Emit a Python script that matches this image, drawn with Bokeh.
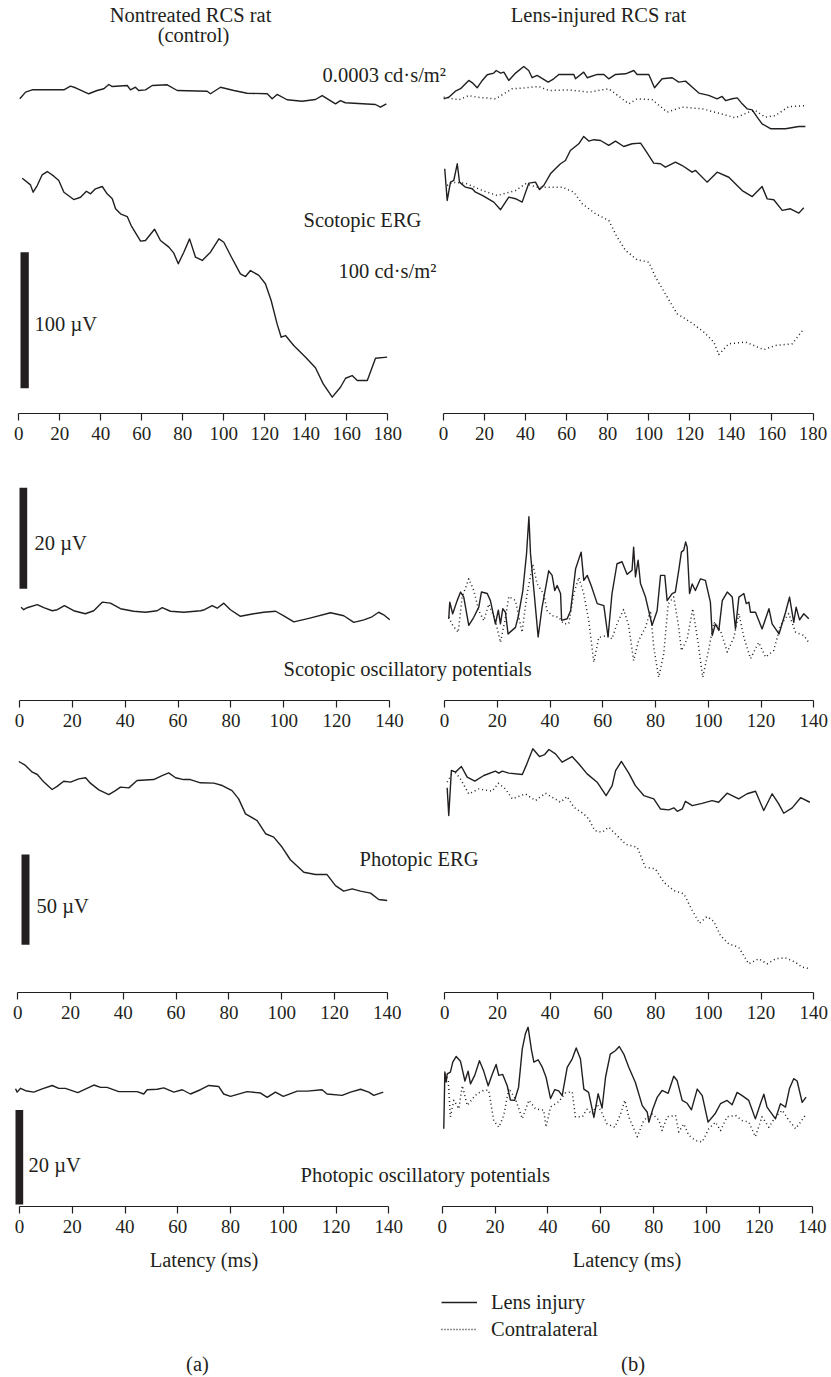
from bokeh.plotting import figure
from bokeh.models import Range1d, FixedTicker, Label, Legend, LegendItem, ColumnDataSource
from bokeh.layouts import column, row
from bokeh.transform import dodge
from bokeh.embed import file_html
from bokeh.resources import INLINE

FONT = "Liberation Serif"
INK = "#231f20"
FS = "20.5px"

# ---------------- DATA (latency in ms, amplitude in uV relative to trace start) -------------
# Row 1: scotopic ERG
R1_CTRL_DIM_T = [0.5,3.3,6.5,22.0,25.2,27.7,34.1,38.2,41.5,43.9,45.6,52.9,54.5,56.9,58.5,61.8,65.1,72.4,77.3,91.9,93.5,98.4,104.9,111.4,121.2,123.6,126.0,130.9,138.2,144.7,148.0,154.5,156.9,159.3,174.0,176.4,179.3]
R1_CTRL_DIM_V = [0,4.9,6.6,6.6,9.3,8.1,3.7,6.1,7.4,10.5,9.0,9.8,6.6,8.5,6.1,6.6,9.8,10.3,6.1,5.6,3.7,8.5,6.1,4.1,3.7,0,3.2,-0.7,-1.8,-0.5,2.4,-3.7,-1.3,-2.9,-4.2,-6.2,-3.7]
R1_CTRL_BRIGHT_T = [1.7,5.7,7.0,9.0,11.4,13.9,17.1,19.5,22.0,26.8,30.1,33.0,35.0,37.4,40.7,43.1,45.6,47.2,49.6,52.9,54.8,59.4,61.8,66.2,69.1,73.2,75.6,77.8,80.5,83.3,86.2,89.5,93.5,97.6,100.0,103.3,108.1,110.6,113.0,117.1,120.3,123.1,126.0,128.0,130.1,134.1,139.9,144.7,148.5,152.9,156.9,159.4,162.6,165.1,170.0,174.0,179.7]
R1_CTRL_BRIGHT_V = [0,-4.9,-10.3,-5.4,2.5,4.9,1.5,-1.7,-10.3,-15.7,-14.0,-9.6,-11.5,-7.8,-6.1,-11.5,-15.1,-22.5,-26.2,-28.2,-34.8,-46.3,-45.8,-37.5,-45.8,-50.7,-55.1,-62.9,-54.4,-44.6,-58.1,-60.5,-54.4,-44.6,-47.1,-56.8,-70.3,-72.3,-67.9,-71.5,-77.6,-89.9,-107.1,-116.9,-115.7,-123.0,-131.6,-139.4,-151.2,-161.0,-153.7,-147.1,-145.1,-148.8,-148.8,-132.4,-131.6]
R1_LENS_DIM_T = [0.1,2.6,5.8,8.3,12.3,14.3,16.4,18.9,21.3,24.5,25.7,27.8,29.4,31.8,35.1,39.1,41.5,43.2,45.6,51.0,53.7,56.2,63.5,64.3,68.3,70.0,74.9,78.1,80.5,83.8,88.7,92.7,94.3,100.0,102.8,106.5,111.4,114.6,117.9,121.1,124.4,129.2,133.3,135.7,137.4,140.6,143.1,145.5,147.9,150.4,152.8,155.2,159.3,166.6,173.1,176.3]
R1_LENS_DIM_V = [0,1.2,5.6,7.4,13.5,11.5,8.1,13.5,17.7,18.9,20.8,18.9,19.6,13.5,18.9,23.8,20.8,15.5,17.2,12.3,14.7,17.9,17.9,14.7,19.6,15.5,17.9,17.9,14.7,17.9,18.4,20.8,17.9,17.9,8.1,14.7,15.5,12.3,13.0,8.6,4.2,2.5,0,1.7,-1.3,0,0.7,-3.7,-7.4,-8.1,-13.5,-18.4,-22.0,-22.0,-20.4,-20.4]
R1_CONTRA_DIM_T = [0.1,7.5,12.3,16.4,25.3,33.5,39.9,46.4,51.3,61.0,70.8,80.5,83.8,90.3,94.3,101.7,109.0,116.3,126.0,142.2,148.7,152.0,156.8,161.7,168.2,176.3]
R1_CONTRA_DIM_V = [0,-1.9,1.2,0,-1.2,6.2,6.9,7.9,4.9,5.4,3.7,6.2,2.5,-4.9,-1.2,-1.9,-11.0,-7.3,-8.5,-15.1,-11.0,-9.8,-14.7,-13.5,-6.9,-6.2]
R1_LENS_BRIGHT_T = [0.6,1.8,3.4,5.0,6.7,7.8,10.7,14.0,15.6,18.9,24.5,27.8,31.8,35.1,38.3,41.6,44.8,46.8,48.9,52.1,54.5,57.0,59.4,61.8,65.9,68.3,70.8,73.2,76.5,80.5,83.8,87.8,91.9,96.0,98.4,102.4,105.7,108.1,113.0,116.3,121.1,122.8,128.4,133.3,139.0,145.5,150.4,155.2,157.7,160.9,165.0,169.0,173.1,175.5]
R1_LENS_BRIGHT_V = [0,-23.3,-9.8,-8.6,3.7,-9.8,-13.5,-14.7,-17.2,-19.6,-24.5,-30.1,-20.8,-22.0,-24.5,-10.5,-9.8,-15.3,-12.1,-3.7,0,3.7,6.1,13.5,18.4,23.8,20.4,21.4,20.8,17.2,20.4,16.4,18.4,18.9,13.5,4.2,3.7,1.2,4.9,2.4,-2.5,-1.2,-9.8,-2.5,-6.2,-16.0,-20.4,-13.1,-22.1,-22.8,-30.6,-29.4,-32.6,-28.7]
R1_CONTRA_BRIGHT_T = [1.8,4.2,10.7,18.9,26.2,35.1,39.9,45.6,51.3,57.8,63.5,67.6,74.1,80.5,84.6,88.7,94.3,100.0,103.3,109.0,113.8,121.1,126.8,131.7,134.1,139.0,147.1,156.0,161.7,169.9,175.5]
R1_CONTRA_BRIGHT_V = [0,2.4,1.7,-3.7,-7.4,-3.7,1.2,-1.2,-1.2,-1.2,-4.9,-13.5,-20.8,-25.7,-38.0,-47.8,-54.6,-56.4,-67.4,-82.1,-94.3,-101.2,-107.8,-115.1,-124.3,-116.4,-115.1,-120.7,-117.6,-116.4,-105.4]

# Row 2: scotopic oscillatory potentials
R2_CTRL_T = [0.6,1.6,2.9,6.7,9.2,12.4,14.3,17.0,20.5,24.9,28.1,31.3,34.4,38.2,43.2,47.7,52.1,54.0,57.1,62.2,68.5,70.0,72.9,74.8,77.3,79.8,83.6,88.6,92.4,96.9,100.0,103.8,109.5,117.7,122.7,126.5,130.3,133.4,135.9,137.8,140.1]
R2_CTRL_V = [0,-0.5,-0.1,0.5,-0.1,-0.7,-0.5,0.3,-0.7,-1.3,-0.7,1.0,0.8,-0.3,-0.8,-1.0,-0.7,-0.1,-0.8,-1.0,-0.7,-0.5,0.3,-0.2,0.8,-0.5,-1.8,-1.3,-1.0,-0.8,-1.7,-2.9,-2.2,-1.1,-1.7,-3.0,-2.5,-1.9,-1.0,-1.5,-2.5]
R2_LENS_T = [1.6,2.0,3.1,4.8,6.1,7.3,9.2,11.1,13.0,14.0,16.2,17.4,19.3,20.4,21.2,22.1,23.1,24.1,26.9,27.9,29.7,31.1,32.0,32.6,33.9,35.5,37.0,39.5,40.8,41.8,42.7,44.0,44.4,46.5,47.8,49.7,51.8,52.8,54.1,55.6,57.9,60.4,62.0,63.5,65.4,67.3,69.2,71.1,71.7,72.4,73.4,74.3,76.2,78.7,80.6,81.9,83.5,84.4,86.3,87.5,88.8,89.8,90.7,91.4,92.0,92.9,93.9,95.1,97.0,98.9,100.8,101.5,102.7,104.0,105.3,107.2,109.1,110.3,111.6,113.5,114.4,115.4,116.0,117.9,120.4,123.0,124.2,126.8,129.3,130.8,132.4,133.3,134.6,136.2,138.1]
R2_LENS_V = [0,3.3,1.0,3.6,5.3,4.3,-1.3,0.3,2.3,5.3,5.0,3.6,-1.0,1.7,-1.0,2.0,1.3,-3.0,-1.7,0.3,5.6,12.9,20.2,12.9,5.6,-3.6,2.3,9.5,8.6,5.6,6.6,5.0,-0.3,0,1.6,9.9,13.2,7.6,8.6,6.6,3.0,2.6,-3.6,5.0,10.9,11.3,8.8,9.6,14.2,8.3,11.6,7.0,4.3,-1.3,1.6,8.6,8.6,3.6,5.0,5.3,9.6,13.2,13.6,15.2,14.2,5.0,6.9,5.6,7.9,7.6,3.3,-3.3,-1.0,-2.3,3.6,5.3,4.3,-2.0,4.3,5.0,3.0,3.3,1.3,1.3,-2.0,2.0,-1.0,-3.0,1.3,4.3,-0.7,2.3,-0.2,1.0,0]
R2_CONTRA_T = [1.6,3.1,5.2,6.7,9.2,11.1,13.0,14.9,16.8,19.3,21.2,22.9,24.4,26.9,29.4,31.3,33.5,35.1,37.6,38.9,40.8,43.3,45.2,47.1,49.0,50.9,52.8,54.7,56.6,58.5,61.7,63.5,65.4,67.9,69.8,71.7,73.6,76.2,78.1,79.3,81.2,83.1,84.8,86.9,88.8,89.8,92.0,94.1,96.2,97.9,100.2,102.1,104.6,107.2,109.7,111.6,113.5,116.0,119.1,121.7,124.8,127.4,130.5,133.1,136.2,138.1]
R2_CONTRA_V = [0,-1.6,-3.0,4.0,7.6,5.3,1.3,-0.7,2.6,-0.7,-5.0,-0.7,4.1,3.3,-3.0,4.6,10.5,6.6,4.6,1.3,0.3,0,-1.3,-1.3,4.6,7.9,4.6,-0.7,-8.9,-4.0,-3.6,-4.3,-1.3,1.5,-1.6,-8.6,-4.6,-2.0,1.3,-5.9,-11.9,-7.3,2.6,4.0,-2.0,-6.6,-4.3,1.7,-5.3,-11.9,-6.3,-1.0,-2.6,-6.9,-4.0,0.7,-4.0,-8.2,-5.0,-7.9,-6.6,-1.6,0.7,-3.0,-3.6,-5.0]

# Row 3: photopic ERG
R3_CTRL_T = [0.4,2.9,5.5,7.4,9.9,13.0,14.9,17.4,20.0,23.1,25.7,27.5,30.7,34.5,37.0,38.9,42.1,45.2,51.5,54.7,57.2,59.8,62.9,65.4,69.2,74.3,77.5,81.2,83.7,86.3,90.7,93.9,97.0,100.2,103.3,108.4,112.8,117.2,120.4,123.5,126.7,129.9,133.7,136.8,140.0]
R3_CTRL_V = [0,-2.2,-5.9,-7.2,-11.4,-15.5,-13.8,-10.9,-11.4,-9.6,-9.0,-12.0,-15.7,-18.3,-16.1,-14.2,-14.6,-10.5,-10.0,-7.8,-6.3,-9.0,-10.0,-10.0,-11.8,-12.0,-13.3,-16.1,-20.7,-29.0,-32.7,-40.0,-41.9,-47.5,-54.4,-61.3,-62.6,-62.6,-68.7,-71.8,-70.5,-71.8,-72.9,-76.4,-77.0]
R3_LENS_T = [0.9,1.5,2.5,4.1,6.3,8.5,11.4,14.8,19.2,20.5,21.8,24.3,29.4,30.9,33.4,35.9,37.9,39.5,42.0,44.5,48.3,50.8,54.0,57.8,61.2,63.5,64.8,67.0,69.8,72.3,75.5,79.3,81.8,85.0,86.9,88.2,90.1,91.3,93.9,97.6,101.4,103.9,107.1,111.5,114.7,117.9,121.0,124.2,126.7,128.6,131.8,135.0,138.5]
R3_LENS_V = [0,-15.3,9.6,8.7,11.8,5.9,3.7,6.8,9.2,8.1,9.2,8.1,7.4,12.4,21.6,17.3,18.4,21.2,18.8,14.2,17.3,13.3,7.7,3.1,-4.3,1.2,9.5,14.6,8.1,1.2,-4.3,-6.1,-11.7,-12.2,-11.1,-13.0,-11.7,-7.5,-9.9,-8.6,-7.1,-8.0,-3.0,-6.1,-3.3,-1.9,-12.6,-3.3,-8.9,-14.1,-11.1,-5.5,-8.0]
R3_CONTRA_T = [0.9,3.4,5.9,9.1,12.9,18.0,20.3,23.0,25.6,30.6,34.4,38.2,43.9,46.4,48.9,52.7,54.6,56.9,59.7,62.2,66.0,68.8,73.0,76.1,79.9,83.1,86.9,90.7,93.6,96.6,99.5,102.0,104.6,107.7,111.5,115.3,119.1,122.3,125.5,129.2,133.0,135.6,138.5]
R3_CONTRA_V = [0,6.5,1.9,-6.5,-3.7,-5.0,-0.6,-3.7,-9.2,-6.5,-10.2,-6.1,-11.1,-7.9,-13.8,-17.5,-20.3,-26.8,-27.7,-24.9,-30.5,-34.5,-36.0,-47.1,-48.0,-55.4,-60.0,-61.8,-70.2,-78.1,-74.4,-77.0,-84.9,-89.5,-91.4,-100.6,-97.8,-100.6,-97.8,-97.2,-99.7,-102.4,-103.3]

# Row 4: photopic oscillatory potentials
R4_CTRL_T = [-1.5,-0.9,0.4,2.3,5.4,8.6,12.4,14.9,17.4,22.1,28.2,30.7,33.2,37.6,44.6,47.1,48.4,52.2,54.7,58.5,61.7,64.8,68.6,71.8,75.5,77.4,80.0,86.3,91.4,93.9,97.0,100.0,105.3,109.1,114.7,116.6,122.3,125.5,129.3,132.4,134.3,137.9]
R4_CTRL_V = [0,-0.7,0.1,-0.4,-0.7,0,0.7,0.1,0.1,-0.8,0.8,0.3,0.3,-0.6,-0.6,-1.1,-0.2,-0.1,0.2,-0.7,-0.2,-1.1,-0.2,0.7,0.5,-1.1,-1.6,-0.6,-0.9,-1.8,-0.7,-1.6,-0.5,-0.5,-0.2,-1.1,-1.4,-0.7,-0.1,-0.7,-1.4,-0.7]
R4_LENS_T = [0.6,1.0,1.5,1.9,3.1,4.0,5.3,6.9,8.6,9.8,10.7,12.3,14.1,15.7,17.4,18.9,20.4,21.4,22.9,24.6,25.8,27.4,28.9,30.3,31.5,32.5,33.8,34.7,36.3,37.8,39.3,41.0,42.6,44.1,45.4,47.3,49.2,50.7,52.3,53.6,55.4,57.4,59.0,60.5,61.8,63.6,65.5,67.0,68.7,70.6,73.1,75.7,77.6,78.2,79.7,81.4,83.2,85.5,87.6,88.9,90.8,92.7,94.3,96.5,98.4,100.6,103.4,105.3,107.8,109.7,111.6,113.5,116.0,118.5,120.4,121.7,122.9,126.1,128.0,129.9,131.4,133.0,134.3,136.2,137.7]
R4_LENS_V = [0,12.0,9.9,11.6,12.0,14.1,15.3,14.3,10.1,12.2,9.5,11.3,14.4,12.2,9.1,11.5,13.6,11.3,11.5,9.1,6.1,6.0,8.8,16.9,20.1,21.5,16.6,14.1,14.6,13.1,10.9,6.4,8.3,8.0,7.0,13.0,14.8,17.1,14.8,8.4,7.7,2.4,7.4,4.4,10.9,15.8,16.5,17.4,15.8,13.0,9.8,4.9,3.5,1.4,4.2,6.7,8.1,7.5,11.1,10.2,6.0,5.4,4.0,8.4,7.0,1.4,3.3,5.3,6.0,5.1,7.7,7.0,6.0,2.1,5.3,7.3,4.6,2.1,5.3,4.6,8.5,10.6,10.1,5.6,6.7]
R4_CONTRA_T = [1.0,2.3,3.1,4.4,6.3,7.6,9.5,11.4,13.2,15.7,17.6,19.5,21.4,23.3,25.2,27.7,30.3,32.8,35.3,38.4,39.3,41.0,44.1,46.7,49.2,50.4,53.0,54.8,56.7,58.6,59.9,62.4,65.3,67.5,69.1,70.6,73.8,76.3,79.5,82.0,83.2,85.1,88.3,89.5,91.4,93.3,95.8,98.4,100.9,103.4,105.3,107.8,111.0,113.5,116.0,118.5,121.0,123.6,126.1,128.7,131.1,133.7,135.6,137.7]
R4_CONTRA_V = [0,-1.4,-9.1,-5.6,-7.4,-2.5,-6.7,-5.3,-4.2,-3.5,-3.5,-9.9,-11.3,-8.8,-3.1,-5.3,-9.5,-5.6,-7.4,-7.7,-11.3,-7.0,-5.9,-4.0,-3.8,-9.1,-9.1,-7.5,-8.5,-6.4,-7.7,-10.6,-11.3,-8.5,-5.6,-9.1,-13.3,-9.8,-8.5,-9.8,-12.0,-9.1,-8.8,-12.3,-10.6,-13.0,-14.1,-14.4,-11.6,-10.2,-12.0,-9.1,-8.8,-9.9,-10.2,-13.3,-9.1,-11.3,-9.1,-7.7,-9.8,-11.6,-10.2,-8.5]

SCALE_BAR_UV = [100, 20, 50, 20]
SCALE_BAR_LABELS = ["100 µV", "20 µV", "50 µV", "20 µV"]
X_TICKS_MAX = [180, 140, 140, 140]
HEADERS = ["Nontreated RCS rat", "(control)", "Lens-injured RCS rat"]
LEGEND_LABELS = ["Lens injury", "Contralateral"]

# ---------------- LAYOUT (screen pixel positions) ----------------
X0, X1 = 0, 831
W = X1 - X0
# (row, side): (pixel of 0 ms, pixel of last tick)
PANEL_PX = {
    (0, "L"): (18.3, 387.3), (0, "R"): (443.0, 812.5),
    (1, "L"): (19.0, 389.0), (1, "R"): (444.0, 813.3),
    (2, "L"): (17.3, 386.7), (2, "R"): (444.3, 813.3),
    (3, "L"): (19.0, 388.3), (3, "R"): (441.7, 811.7),
}
PX_PER_UV = [1.36, 5.05, 1.806, 4.73]
TRACE_BOX = [(0, 408), (470, 695), (745, 985), (1026, 1205)]
STRIP_BOX = [(408, 470), (695, 745), (985, 1026), (1205, 1280)]
STRIP_LINE = [(8, 5), (5, 8), (7, 7), (1, 4)]
BOTTOM_BOX = (1280, 1376)
SCALE_BAR_PX = [(20, 28.3, 387.7), (19, 26.7, 588.3), (21, 29, 944.3), (15, 22.7, 1204)]
SCALE_LABEL_PX = [(34, 323.1), (34, 542.1), (36, 905.8), (28, 1164.8)]


def ms_range(r, side, a, b):
    p0, p1 = PANEL_PX[(r, side)]
    s = (p1 - p0) / X_TICKS_MAX[r]
    return Range1d((a - p0) / s, (b - p0) / s)


def add_text(p, x, y, text, align="left"):
    p.add_layout(Label(x=x, y=y, text=text, text_font=FONT, text_font_size=FS,
                       text_color=INK, text_align=align, text_baseline="middle"))


def trace_fig(r):
    top, bot = TRACE_BOX[r]
    h = bot - top
    p = figure(width=W, height=h, output_backend="svg", toolbar_location=None, tools="",
               x_range=Range1d(X0, X1), y_range=Range1d(bot, top),
               x_axis_location=None, y_axis_location=None, min_border=0,
               outline_line_color=None)
    p.grid.visible = False
    p.extra_x_ranges = {"L": ms_range(r, "L", X0, X1), "R": ms_range(r, "R", X0, X1)}
    p.extra_y_ranges = {"uV": Range1d(0, h / PX_PER_UV[r])}
    # calibration bar
    bx0, bx1, bby = SCALE_BAR_PX[r]
    base = (bot - bby) / PX_PER_UV[r]
    src = ColumnDataSource(dict(x=[(bx0 + bx1) / 2], uv=[SCALE_BAR_UV[r]]))
    p.vbar(x="x", width=bx1 - bx0, bottom=base, top=dodge("uv", base), source=src,
           y_range_name="uV", fill_color=INK, line_color=None)
    lx, ly = SCALE_LABEL_PX[r]
    add_text(p, lx, ly, SCALE_BAR_LABELS[r])
    return p


def add_trace(p, r, side, t, v, start_px, dotted=False):
    bot = TRACE_BOX[r][1]
    base = (bot - start_px) / PX_PER_UV[r]
    src = ColumnDataSource(dict(t=t, v=v))
    p.line(x="t", y=dodge("v", base), source=src, x_range_name=side, y_range_name="uV",
           line_color=INK, line_width=1.4 if not dotted else 1.5,
           line_dash="1 3" if dotted else "solid", line_join="round")


def strip(r, side, x_a, x_b, frame_a, frame_b, label=None):
    top, bot = STRIP_BOX[r]
    h = bot - top
    off = STRIP_LINE[r][0 if side == "L" else 1]
    p = figure(width=x_b - x_a, height=h, output_backend="svg", toolbar_location=None, tools="",
               x_range=ms_range(r, side, frame_a, frame_b), y_range=Range1d(0, 1),
               x_axis_location="below", y_axis_location=None,
               min_border_left=frame_a - x_a, min_border_right=x_b - frame_b,
               min_border_top=0, min_border_bottom=h - off, outline_line_color=None)
    p.grid.visible = False
    ax = p.xaxis[0]
    tmax = X_TICKS_MAX[r]
    ax.ticker = FixedTicker(ticks=list(range(0, tmax + 1, 20)))
    ax.bounds = (0, tmax)
    ax.axis_line_color = INK
    ax.axis_line_width = 1.2
    ax.major_tick_line_color = INK
    ax.major_tick_line_width = 1.2
    ax.major_tick_out = 7
    ax.major_tick_in = 0
    ax.minor_tick_line_color = None
    ax.major_label_standoff = 6
    ax.major_label_text_font = FONT
    ax.major_label_text_font_size = "19px"
    ax.major_label_text_color = INK
    if label:
        ax.axis_label = label
        ax.axis_label_text_font = FONT
        ax.axis_label_text_font_size = FS
        ax.axis_label_text_font_style = "normal"
        ax.axis_label_text_color = INK
        ax.axis_label_standoff = 13
    return p


def strip_row(r, label=None):
    return row(strip(r, "L", 0, 428, 0, 407, label), strip(r, "R", 428, 831, 428, 825, label))


# Row 1
t1 = trace_fig(0)
add_text(t1, 190, 14.8, HEADERS[0], "center")
add_text(t1, 193, 34.6, HEADERS[1], "center")
add_text(t1, 598, 14.1, HEADERS[2], "center")
add_text(t1, 322, 74.8, "0.0003 cd·s/m²")
add_text(t1, 303, 219.8, "Scotopic ERG")
add_text(t1, 338, 270.4, "100 cd·s/m²")
add_trace(t1, 0, "L", R1_CTRL_DIM_T, R1_CTRL_DIM_V, 98.3)
add_trace(t1, 0, "L", R1_CTRL_BRIGHT_T, R1_CTRL_BRIGHT_V, 177.7)
add_trace(t1, 0, "R", R1_LENS_DIM_T, R1_LENS_DIM_V, 98.3)
add_trace(t1, 0, "R", R1_CONTRA_DIM_T, R1_CONTRA_DIM_V, 96.7, dotted=True)
add_trace(t1, 0, "R", R1_LENS_BRIGHT_T, R1_LENS_BRIGHT_V, 168.3)
add_trace(t1, 0, "R", R1_CONTRA_BRIGHT_T, R1_CONTRA_BRIGHT_V, 185.0, dotted=True)

# Row 2
t2 = trace_fig(1)
add_text(t2, 283, 668.1, "Scotopic oscillatory potentials")
add_trace(t2, 1, "L", R2_CTRL_T, R2_CTRL_V, 606.7)
add_trace(t2, 1, "R", R2_LENS_T, R2_LENS_V, 618.3)
add_trace(t2, 1, "R", R2_CONTRA_T, R2_CONTRA_V, 616.7, dotted=True)

# Row 3
t3 = trace_fig(2)
add_text(t3, 359, 858.1, "Photopic ERG")
add_trace(t3, 2, "L", R3_CTRL_T, R3_CTRL_V, 761.0)
add_trace(t3, 2, "R", R3_LENS_T, R3_LENS_V, 787.3)
add_trace(t3, 2, "R", R3_CONTRA_T, R3_CONTRA_V, 781.7, dotted=True)

# Row 4
t4 = trace_fig(3)
add_text(t4, 300, 1174.8, "Photopic oscillatory potentials")
add_trace(t4, 3, "L", R4_CTRL_T, R4_CTRL_V, 1088.3)
add_trace(t4, 3, "R", R4_LENS_T, R4_LENS_V, 1128.3)
add_trace(t4, 3, "R", R4_CONTRA_T, R4_CONTRA_V, 1073.3, dotted=True)

# Bottom: legend and panel letters
btop, bbot = BOTTOM_BOX
pb = figure(width=W, height=bbot - btop, output_backend="svg", toolbar_location=None, tools="",
            x_range=Range1d(X0, X1), y_range=Range1d(bbot, btop),
            x_axis_location=None, y_axis_location=None, min_border=0, outline_line_color=None)
pb.grid.visible = False
proxy = ColumnDataSource(dict(x=[X0], y=[btop - 50]))
r_solid = pb.line(x="x", y="y", source=proxy, line_color=INK, line_width=1.4)
r_dot = pb.line(x="x", y="y", source=proxy, line_color=INK, line_width=1.5, line_dash="1 2")
leg = Legend(items=[LegendItem(label=LEGEND_LABELS[0], renderers=[r_solid]),
                    LegendItem(label=LEGEND_LABELS[1], renderers=[r_dot])],
             location=(441, 35), padding=0, margin=0, spacing=3, glyph_width=36,
             glyph_height=24, label_height=24, label_standoff=14,
             label_text_font=FONT, label_text_font_size=FS, label_text_color=INK,
             border_line_color=None, background_fill_alpha=0)
pb.add_layout(leg)
add_text(pb, 197, 1363, "(a)", "center")
add_text(pb, 632.5, 1363, "(b)", "center")

layout = column(t1, strip_row(0), t2, strip_row(1), t3, strip_row(2), t4,
                strip_row(3, "Latency (ms)"), pb)

open("out.html", "w").write(file_html(layout, INLINE))
